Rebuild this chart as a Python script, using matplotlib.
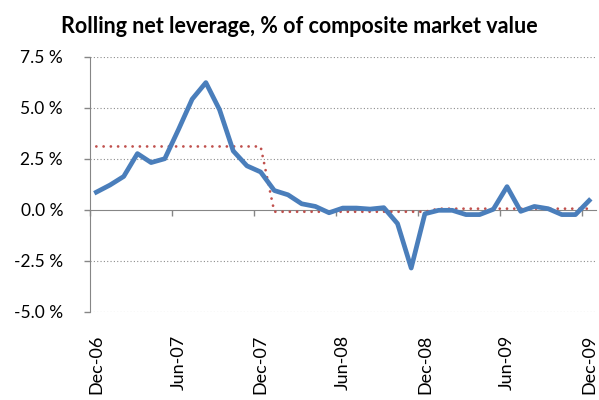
import numpy as np
import matplotlib.pyplot as plt
from matplotlib.ticker import FixedLocator, FuncFormatter

# monthly values, Dec-06 .. Dec-09
months = ['Dec-06', 'Jan-07', 'Feb-07', 'Mar-07', 'Apr-07', 'May-07', 'Jun-07',
          'Jul-07', 'Aug-07', 'Sep-07', 'Oct-07', 'Nov-07', 'Dec-07',
          'Jan-08', 'Feb-08', 'Mar-08', 'Apr-08', 'May-08', 'Jun-08',
          'Jul-08', 'Aug-08', 'Sep-08', 'Oct-08', 'Nov-08', 'Dec-08',
          'Jan-09', 'Feb-09', 'Mar-09', 'Apr-09', 'May-09', 'Jun-09',
          'Jul-09', 'Aug-09', 'Sep-09', 'Oct-09', 'Nov-09', 'Dec-09']

net_leverage = [0.86, 1.21, 1.63, 2.75, 2.31, 2.50, 3.93, 5.42, 6.23, 4.90,
                2.88, 2.15, 1.85, 0.94, 0.73, 0.29, 0.16, -0.15, 0.08, 0.08,
                0.03, 0.10, -0.68, -2.86, -0.20, -0.03, -0.03, -0.24, -0.24,
                0.02, 1.13, -0.08, 0.16, 0.05, -0.24, -0.24, 0.45]

annual_avg = [3.1] * 13 + [-0.1] * 12 + [0.05] * 12

label_idx = [0, 6, 12, 18, 24, 30, 36]
y_ticks = [-5.0, -2.5, 0.0, 2.5, 5.0, 7.5]

plt.rcParams['font.family'] = ['Lato', 'DejaVu Sans']
grey = '#868686'

fig = plt.figure(figsize=(5.99, 4.0), dpi=100)
ax = fig.add_axes([89.5 / 599, 1 - 311.7 / 400, (596 - 89.5) / 599, (311.7 - 56.7) / 400])

x = np.arange(len(months))
ax.plot(x, annual_avg, color='#C0504D', lw=2.0, linestyle=(0, (0.01, 2.6)),
        dash_capstyle='round', zorder=3)
ax.plot(x, net_leverage, color='#4A7EBB', lw=3.4, solid_joinstyle='round', zorder=4)

ax.set_xlim(-0.5, len(months) - 0.5)
ax.set_ylim(y_ticks[0], y_ticks[-1])

# y axis
ax.set_yticks(y_ticks)
ax.yaxis.set_major_formatter(FuncFormatter(lambda v, p: '%.1f %%' % v))
ax.tick_params(axis='y', length=4, width=1, color=grey, pad=15, labelsize=12.5)
for t in y_ticks:
    if t != 0:
        ax.axhline(t, color='#8C8C8C', lw=0.8, linestyle=(0, (1, 2)), zorder=1)

# x axis line at zero with tick marks between categories
ax.spines['bottom'].set_position(('data', 0))
ax.spines['bottom'].set_color(grey)
ax.spines['left'].set_color(grey)
ax.spines['bottom'].set_zorder(2)
for s in ['top', 'right']:
    ax.spines[s].set_visible(False)
ax.xaxis.set_major_locator(FixedLocator([i - 0.5 for i in label_idx]))
ax.tick_params(axis='x', length=4, width=1, color=grey, labelbottom=False)

# labels at the bottom of the plot area
sec = ax.secondary_xaxis(0)
sec.set_xticks(label_idx)
sec.set_xticklabels([months[i] for i in label_idx], rotation=90)
sec.tick_params(length=0, pad=16.5, labelsize=13)
sec.spines['bottom'].set_visible(False)

fig.text(0.5, 1 - 33 / 400, 'Rolling net leverage, % of composite market value',
         fontsize=15.5, fontweight='bold', ha='center', va='baseline')

fig.savefig('out.png', dpi=100)
